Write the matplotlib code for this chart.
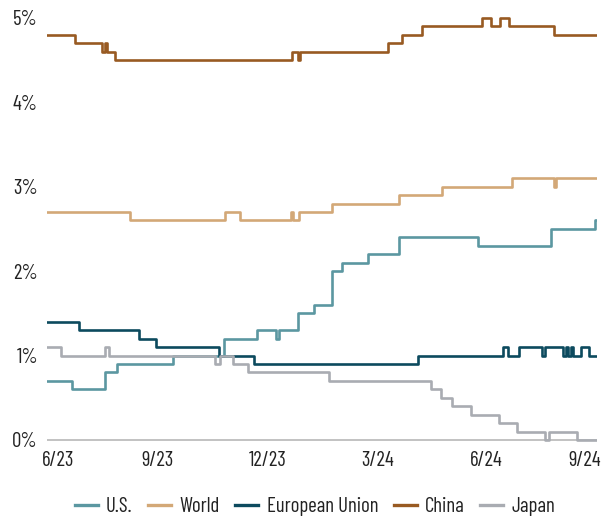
import pandas as pd
import matplotlib
matplotlib.use("Agg")
import matplotlib.pyplot as plt
from matplotlib.transforms import ScaledTranslation

plt.rcParams['font.family'] = ['Barlow Condensed', 'Roboto Condensed', 'Archivo Narrow', 'DejaVu Sans']

# step series: dates where the value changes, and the new value (%)
us_dates = ["2023-06-30", "2023-07-21", "2023-08-17", "2023-08-27", "2023-10-13",
            "2023-11-24", "2023-12-22", "2024-01-07", "2024-01-09", "2024-01-25",
            "2024-02-07", "2024-02-22", "2024-03-02", "2024-03-23", "2024-04-18",
            "2024-06-23", "2024-08-23", "2024-09-28", "2024-09-30"]
us_vals = [0.7, 0.6, 0.8, 0.9, 1.0, 1.2, 1.3, 1.2, 1.3, 1.5, 1.6, 2.0, 2.1, 2.2,
           2.4, 2.3, 2.5, 2.6, 2.6]

world_dates = ["2023-06-30", "2023-09-07", "2023-11-25", "2023-12-08", "2024-01-19",
               "2024-01-21", "2024-01-26", "2024-02-22", "2024-04-18", "2024-05-24",
               "2024-07-21", "2024-08-25", "2024-08-27", "2024-09-30"]
world_vals = [2.7, 2.6, 2.7, 2.6, 2.7, 2.6, 2.7, 2.8, 2.9, 3.0, 3.1, 3.0, 3.1, 3.1]

eu_dates = ["2023-06-30", "2023-07-27", "2023-09-15", "2023-09-29", "2023-11-20",
            "2023-12-19", "2024-05-04", "2024-07-14", "2024-07-18", "2024-07-27",
            "2024-08-15", "2024-08-18", "2024-09-02", "2024-09-04", "2024-09-06",
            "2024-09-08", "2024-09-10", "2024-09-17", "2024-09-23", "2024-09-30"]
eu_vals = [1.4, 1.3, 1.2, 1.1, 1.0, 0.9, 1.0, 1.1, 1.0, 1.1, 1.0, 1.1, 1.0, 1.1,
           1.0, 1.1, 1.0, 1.1, 1.0, 1.0]

china_dates = ["2023-06-30", "2023-07-23", "2023-08-15", "2023-08-17", "2023-08-19",
               "2023-08-26", "2024-01-20", "2024-01-25", "2024-01-27", "2024-04-09",
               "2024-04-21", "2024-05-07", "2024-06-26", "2024-07-04", "2024-07-11",
               "2024-07-19", "2024-08-25", "2024-09-30"]
china_vals = [4.8, 4.7, 4.6, 4.7, 4.6, 4.5, 4.6, 4.5, 4.6, 4.7, 4.8, 4.9, 5.0, 4.9,
              5.0, 4.9, 4.8, 4.8]

japan_dates = ["2023-06-30", "2023-07-12", "2023-08-17", "2023-08-21", "2023-11-17",
               "2023-11-21", "2023-12-02", "2023-12-14", "2024-02-20", "2024-05-15",
               "2024-05-23", "2024-06-01", "2024-06-17", "2024-07-10", "2024-07-25",
               "2024-08-18", "2024-08-21", "2024-09-13", "2024-09-30"]
japan_vals = [1.1, 1.0, 1.1, 1.0, 0.9, 1.0, 0.9, 0.8, 0.7, 0.6, 0.5, 0.4, 0.3, 0.2,
              0.1, 0.0, 0.1, 0.0, 0.0]

tick_dates = ["2023-06-30", "2023-09-30", "2023-12-31", "2024-03-31", "2024-06-30", "2024-09-30"]
tick_labels = ["6/23", "9/23", "12/23", "3/24", "6/24", "9/24"]

series = [
    ("U.S.", us_dates, us_vals, "#5b97a1"),
    ("World", world_dates, world_vals, "#d3a877"),
    ("European Union", eu_dates, eu_vals, "#0c4a5e"),
    ("China", china_dates, china_vals, "#985a22"),
    ("Japan", japan_dates, japan_vals, "#a9acb2"),
]

fig = plt.figure(figsize=(6.06, 5.19), dpi=100)
ax = fig.add_axes([0.0776, 0.136, 0.9076, 0.846])

ax.axhline(0, color="#b8b8b8", lw=1.2, zorder=1)

order = [4, 0, 1, 2, 3]
handles = {}
for i in order:
    name, d, v, c = series[i]
    ln, = ax.plot(pd.to_datetime(d), v, drawstyle="steps-post", color=c, lw=1.9,
                  label=name, zorder=2 + i)
    handles[name] = ln

ax.set_xlim(pd.Timestamp("2023-06-30"), pd.Timestamp("2024-09-30"))
ax.set_ylim(-0.1, 5.1)
ax.set_yticks([0, 1, 2, 3, 4, 5])
ax.set_yticklabels(["0%", "1%", "2%", "3%", "4%", "5%"])
ax.set_xticks(pd.to_datetime(tick_dates))
ax.set_xticklabels(tick_labels)
ax.tick_params(axis="both", length=0, labelsize=15, colors="#222222")
ax.tick_params(axis="y", pad=6.5)
ax.tick_params(axis="x", pad=2)
for s in ax.spines.values():
    s.set_visible(False)

xl = ax.get_xticklabels()
xl[0].set_horizontalalignment("left")
xl[0].set_transform(xl[0].get_transform() + ScaledTranslation(-5 / 100, 0, fig.dpi_scale_trans))
xl[-1].set_horizontalalignment("right")
xl[-1].set_transform(xl[-1].get_transform() + ScaledTranslation(4 / 100, 0, fig.dpi_scale_trans))

names = [s[0] for s in series]
leg = fig.legend([handles[n] for n in names], names, loc="center", bbox_to_anchor=(0.52, 0.024),
                 ncol=5, frameon=False, fontsize=15, handlelength=1.1, handletextpad=0.4,
                 columnspacing=0.75, labelcolor="#222222")
for h in leg.legend_handles:
    h.set_linewidth(2.4)

fig.savefig("out.png", dpi=100)
